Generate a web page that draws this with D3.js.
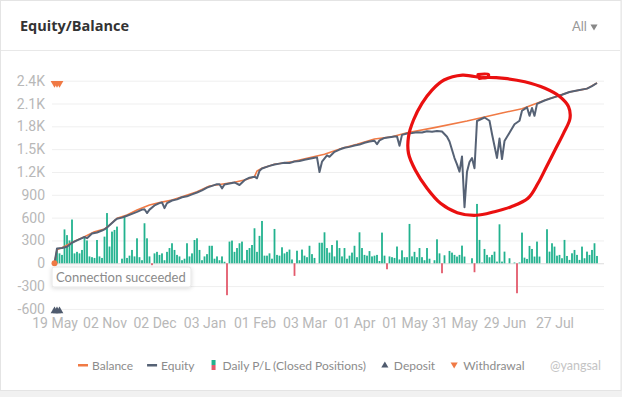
<!DOCTYPE html>
<html>
<head>
<meta charset="utf-8">
<script src="https://cdn.jsdelivr.net/npm/d3@7/dist/d3.min.js"></script>
<style>
  html, body { margin: 0; padding: 0; background: #f1f1f1; }
  svg { display: block; }
</style>
</head>
<body>
<svg id="chart" width="622" height="397"></svg>
<script>
// x axis labels, one every labelStep trading days
const categoryLabels = ['19 May', '02 Nov', '02 Dec', '03 Jan', '01 Feb', '03 Mar', '01 Apr', '01 May', '31 May', '29 Jun', '27 Jul'];
const labelStep = 20;
const dayCount = 218;

const yTicks = [-600, -300, 0, 300, 600, 900, 1200, 1500, 1800, 2100, 2400];

// daily closed P/L, one value per trading day
const dailyPL = [
  0, 175, 130, 110, 445, 370, 300, 575, 130, 150,
  130, 175, 350, 300, 90, 80, 70, 306, 90, 70,
  350, 660, 220, 416, 438, 482, 0, 60, 610, 70,
  100, 175, 90, 328, 80, 40, 526, 328, 90, -25,
  130, 150, 110, 130, 40, 150, 200, 263, 175, 110,
  90, 40, 60, 263, 90, 130, 306, 328, 175, 40,
  90, 120, 230, 230, 60, 90, 40, 90, 20, -420,
  285, 298, 150, 200, 263, 285, 40, 175, 200, 240,
  460, 150, 360, 556, 100, 100, 130, 60, 451, 110,
  100, 210, 130, 150, 180, 50, -166, 165, 40, 180,
  100, 80, 230, 120, 70, 0, 270, 270, 407, 200,
  140, 240, 90, 300, 200, 90, 200, 60, 100, 140,
  230, 80, 407, 200, 110, 100, 160, 90, 100, 110,
  30, 403, 100, -79, 90, 80, 70, 220, 50, 170,
  80, 80, 517, 90, 150, 80, 200, 80, 40, 200,
  60, 0, 40, 315, 130, -131, 105, 0, 162, 140,
  110, 88, 110, 232, 88, 0, 0, 66, -118, 780,
  307, 10, 188, 110, 79, 110, 153, 22, 512, 22,
  153, 0, 66, 0, 10, -394, 10, 403, 74, 57,
  228, 188, 88, 285, 88, 0, 0, 447, 153, 263,
  219, 100, 110, 66, 307, 96, 44, 131, 175, 110,
  44, 219, 66, 153, 110, 175, 263, 96
];

// [trading day, value]
const balancePoints = [
  [0, 0], [1, 180], [3, 205], [8, 290], [12, 350], [16, 415], [20, 450], [22, 503], [25, 591],
  [29, 635], [33, 700], [38, 766], [42, 797], [47, 832], [51, 875], [57, 941], [62, 1016],
  [68, 1045], [72, 1064], [76, 1095], [80, 1138], [81, 1213], [83, 1248], [88, 1301], [95, 1335],
  [101, 1380], [108, 1432], [115, 1511], [121, 1564], [128, 1633], [135, 1664], [141, 1716],
  [152, 1783], [165, 1870], [179, 1975], [187, 2032], [198, 2165], [200, 2184], [206, 2251],
  [213, 2296], [217, 2370]
];

const equityPoints = [
  [0, 0], [1, 195], [3, 200], [5, 218], [7, 270], [9, 300], [11, 330], [12, 345], [13, 330],
  [15, 390], [17, 405], [19, 430], [20, 445], [21, 470], [22, 500], [24, 560], [25, 585],
  [27, 600], [29, 625], [31, 650], [33, 675], [35, 705], [36, 710], [37, 660], [38, 705],
  [40, 760], [42, 790], [43, 800], [44, 725], [45, 790], [47, 825], [49, 840], [51, 868],
  [53, 880], [55, 905], [57, 930], [59, 958], [61, 995], [63, 1018], [65, 1040], [66, 1040],
  [67, 985], [68, 1035], [70, 1048], [72, 1062], [74, 1029], [76, 1092], [78, 1125], [80, 1138],
  [81, 1117], [82, 1215], [83, 1245], [86, 1280], [88, 1298], [90, 1310], [92, 1322], [94, 1318],
  [96, 1338], [98, 1345], [100, 1362], [102, 1375], [104, 1388], [105, 1392], [106, 1200],
  [107, 1335], [109, 1418], [110, 1400], [112, 1465], [114, 1495], [116, 1518], [118, 1530],
  [120, 1548], [122, 1560], [124, 1585], [126, 1600], [128, 1610], [129, 1564], [130, 1615],
  [132, 1648], [134, 1658], [136, 1665], [137, 1668], [138, 1545], [139, 1688], [141, 1705],
  [143, 1712], [145, 1722], [147, 1718], [149, 1735], [151, 1728], [153, 1740], [155, 1732],
  [157, 1664], [158, 1600], [160, 1383], [161, 1300], [162, 1204], [163, 1405], [164, 736],
  [165, 1204], [166, 1330], [167, 1383], [168, 1249], [169, 1870], [172, 1916], [174, 1873],
  [175, 1700], [176, 1541], [177, 1384], [178, 1640], [179, 1370], [180, 1607], [182, 1716],
  [184, 1828], [186, 1873], [187, 2005], [189, 2050], [190, 1938], [191, 2041], [192, 1938],
  [193, 2095], [196, 2140], [200, 2184], [203, 2215], [206, 2251], [209, 2270], [213, 2296],
  [215, 2330], [217, 2370]
];

const depositDays = [0, 1, 2];
const withdrawalDays = [0, 1, 2];

// hand drawn red loop around the drawdown, [trading day, value]
const annotationLoop = [
  [169.4, 2481], [173.6, 2481], [173, 2440], [163.2, 2474], [155.8, 2409], [151, 2277],
  [147, 2102], [143.6, 1883], [141.6, 1664], [141.6, 1445], [144.3, 1226], [149, 986],
  [154.4, 788], [161.1, 665], [168.6, 631], [176, 678], [182.7, 744], [189.4, 854],
  [193.4, 1051], [196.8, 1269], [200.2, 1489], [203.6, 1708], [206.2, 1905], [205.6, 2058],
  [202.2, 2189], [196.2, 2300], [188.1, 2386], [180, 2431], [173.2, 2444], [169.9, 2431]
];

const legendItems = ['Balance', 'Equity', 'Daily P/L (Closed Positions)', 'Deposit', 'Withdrawal'];

const colors = {
  balance: '#f07a45',
  equity: '#566275',
  gain: '#22b28e',
  loss: '#e35a6c',
  deposit: '#4f5b6e',
  withdrawal: '#f07a45'
};

const svg = d3.select('#chart');
const width = 622;
const axisFont = '"Liberation Sans Narrow", Roboto, sans-serif';
const textFont = 'Lato, "Open Sans", sans-serif';

// card
svg.append('rect')
  .attr('x', 0.5).attr('y', 0.5)
  .attr('width', width - 1.5).attr('height', 390)
  .attr('fill', '#fff').attr('stroke', '#e4e4e4');

svg.append('line')
  .attr('x1', 1).attr('x2', width - 2)
  .attr('y1', 50.5).attr('y2', 50.5)
  .attr('stroke', '#e8e8e8');

svg.append('text')
  .attr('x', 20).attr('y', 31)
  .attr('font-family', '"Open Sans", sans-serif')
  .attr('font-weight', 'bold')
  .attr('font-size', 14.5)
  .attr('fill', '#333')
  .text('Equity/Balance');

svg.append('text')
  .attr('x', 572).attr('y', 31)
  .attr('font-family', textFont)
  .attr('font-size', 13)
  .attr('fill', '#999')
  .text('All');
svg.append('path')
  .attr('d', d3.symbol(d3.symbolTriangle, 22)())
  .attr('transform', 'translate(594,26.5) rotate(180)')
  .attr('fill', '#888');

// scales
const x = d3.scaleLinear().domain([0, dayCount - 1]).range([54.5, 597]);
const y = d3.scaleLinear().domain([-600, 2400]).range([308.9, 80.7]);

// grid
svg.append('g')
  .attr('transform', 'translate(52,0)')
  .call(d3.axisLeft(y).tickValues(yTicks).tickSize(-552).tickFormat(''))
  .call(g => g.select('.domain').remove())
  .call(g => g.selectAll('line').attr('stroke', d => d === 0 ? '#dcdcdc' : '#efefef'));

// y labels
svg.append('g')
  .attr('transform', 'translate(52,0)')
  .call(d3.axisLeft(y).tickValues(yTicks).tickSize(0).tickPadding(7)
    .tickFormat(d => Math.abs(d) >= 1000 ? (d / 1000).toFixed(1) + 'K' : d))
  .call(g => g.select('.domain').remove())
  .call(g => g.selectAll('text')
    .attr('font-family', axisFont).attr('font-size', 14).attr('fill', '#b8b8b8'));

// x labels
svg.append('g')
  .attr('transform', 'translate(0,312)')
  .call(d3.axisBottom(x).tickValues(d3.range(0, dayCount, labelStep)).tickSize(0).tickPadding(6)
    .tickFormat((d, i) => categoryLabels[i]))
  .call(g => g.select('.domain').remove())
  .call(g => g.selectAll('text')
    .attr('font-family', axisFont).attr('font-size', 14).attr('fill', '#b8b8b8'));

// daily P/L bars
svg.append('g')
  .selectAll('rect')
  .data(dailyPL.map((v, i) => ({ i, v })).filter(d => d.v !== 0))
  .join('rect')
  .attr('x', d => x(d.i) - 0.9)
  .attr('width', 1.8)
  .attr('y', d => y(Math.max(0, d.v)))
  .attr('height', d => Math.abs(y(d.v) - y(0)))
  .attr('fill', d => d.v > 0 ? colors.gain : colors.loss);

// lines
const line = d3.line().x(d => x(d[0])).y(d => y(d[1]));

svg.append('path')
  .datum(balancePoints)
  .attr('fill', 'none')
  .attr('stroke', colors.balance)
  .attr('stroke-width', 1.6)
  .attr('stroke-linejoin', 'round')
  .attr('d', line);

svg.append('path')
  .datum(equityPoints)
  .attr('fill', 'none')
  .attr('stroke', colors.equity)
  .attr('stroke-width', 2)
  .attr('stroke-linejoin', 'round')
  .attr('d', line);

svg.append('circle')
  .attr('cx', x(balancePoints[0][0]))
  .attr('cy', y(balancePoints[0][1]))
  .attr('r', 3)
  .attr('fill', colors.balance);

// deposit / withdrawal markers at the plot edges
svg.append('g')
  .selectAll('path')
  .data(depositDays)
  .join('path')
  .attr('d', d3.symbol(d3.symbolTriangle, 26)())
  .attr('transform', d => `translate(${x(d)},${y(-600) + 2})`)
  .attr('fill', colors.deposit);

svg.append('g')
  .selectAll('path')
  .data(withdrawalDays)
  .join('path')
  .attr('d', d3.symbol(d3.symbolTriangle, 26)())
  .attr('transform', d => `translate(${x(d)},${y(2400) + 2.5}) rotate(180)`)
  .attr('fill', colors.withdrawal);

// annotation loop
svg.append('path')
  .datum(annotationLoop)
  .attr('fill', 'none')
  .attr('stroke', '#ea1010')
  .attr('stroke-width', 3.2)
  .attr('stroke-linecap', 'round')
  .attr('stroke-linejoin', 'round')
  .attr('d', d3.line().x(d => x(d[0])).y(d => y(d[1])).curve(d3.curveCatmullRom));

// status popup
const defs = svg.append('defs');
const shadow = defs.append('filter').attr('id', 'shadow')
  .attr('x', '-20%').attr('y', '-50%').attr('width', '140%').attr('height', '200%');
shadow.append('feDropShadow')
  .attr('dx', 0).attr('dy', 1).attr('stdDeviation', 2)
  .attr('flood-color', '#000').attr('flood-opacity', 0.15);

const tip = svg.append('g').attr('transform', 'translate(52,267)');
tip.append('rect')
  .attr('width', 139).attr('height', 20).attr('rx', 2)
  .attr('fill', '#fff').attr('stroke', '#e6e6e6')
  .attr('filter', 'url(#shadow)');
tip.append('text')
  .attr('x', 4).attr('y', 14.5)
  .attr('font-family', textFont).attr('font-size', 13)
  .attr('fill', '#8a8a8a')
  .text('Connection succeeded');

// legend
const legend = svg.append('g').attr('transform', 'translate(78,365)');
let lx = 0;
legendItems.forEach((name, k) => {
  const g = legend.append('g').attr('transform', `translate(${lx},0)`);
  if (k < 2) {
    g.append('rect').attr('x', 0).attr('y', -1).attr('width', 10).attr('height', 2.5)
      .attr('fill', k === 0 ? colors.balance : colors.equity);
  } else if (k === 2) {
    g.append('rect').attr('x', 3).attr('y', -5).attr('width', 4).attr('height', 5).attr('fill', colors.gain);
    g.append('rect').attr('x', 3).attr('y', 0).attr('width', 4).attr('height', 5).attr('fill', colors.loss);
  } else {
    g.append('path')
      .attr('d', d3.symbol(d3.symbolTriangle, 22)())
      .attr('transform', k === 3 ? 'translate(5,0.5)' : 'translate(5,-0.5) rotate(180)')
      .attr('fill', k === 3 ? colors.deposit : colors.withdrawal);
  }
  const t = g.append('text')
    .attr('x', 14).attr('y', 4.5)
    .attr('font-family', textFont).attr('font-size', 12)
    .attr('fill', '#8c8c8c')
    .text(name);
  lx += 14 + t.node().getComputedTextLength() + 14;
});

// watermark
svg.append('text')
  .attr('x', 550).attr('y', 370)
  .attr('font-family', textFont).attr('font-size', 12.5)
  .attr('fill', '#c4c4c4')
  .text('@yangsal');
</script>
</body>
</html>
